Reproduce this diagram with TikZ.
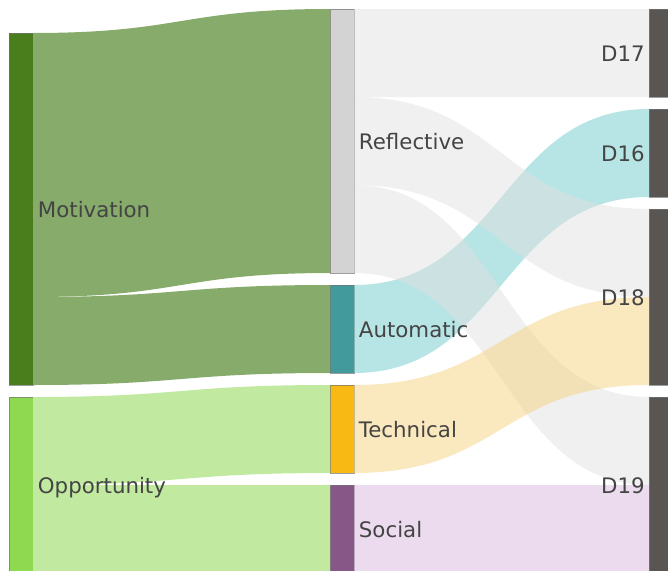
\documentclass[tikz,border=0pt]{standalone}
\usepackage{fontspec}
\setmainfont{DejaVu Sans}
\usetikzlibrary{positioning, calc}

\definecolor{motnode}{RGB}{74,125,28}
\definecolor{oppnode}{RGB}{143,217,81}
\definecolor{reflnode}{RGB}{211,211,211}
\definecolor{autonode}{RGB}{66,154,156}
\definecolor{technode}{RGB}{249,185,21}
\definecolor{socnode}{RGB}{135,88,135}
\definecolor{dnode}{RGB}{89,85,83}
\definecolor{motlink}{RGB}{134,171,106}
\definecolor{opplink}{RGB}{193,233,160}
\definecolor{refllink}{RGB}{225,225,225}
\definecolor{autolink}{RGB}{111,201,201}
\definecolor{techlink}{RGB}{245,209,125}
\definecolor{soclink}{RGB}{217,181,221}
\definecolor{labeltext}{RGB}{68,68,68}

% band from source node to target node (offsets and width in px)
\newcommand{\flow}[6]{%
  \fill[#6] let \p1=(#1.north east), \p2=(#3.north west),
    \n1={\y1-#2*0.75pt}, \n2={\y2-#4*0.75pt}, \n3={#5*0.75pt},
    \n4={(\x1+\x2)/2} in
    ({\x1},{\n1*1pt}) .. controls ({\n4*1pt},{\n1*1pt}) and ({\n4*1pt},{\n2*1pt}) .. ({\x2},{\n2*1pt})
    -- ({\x2},{(\n2-\n3)*1pt}) .. controls ({\n4*1pt},{(\n2-\n3)*1pt}) and ({\n4*1pt},{(\n1-\n3)*1pt}) .. ({\x1},{(\n1-\n3)*1pt})
    -- cycle;
}

\begin{document}
\begin{tikzpicture}[
    x=0.75pt, y=-0.75pt,
    bar/.style={rectangle, draw=black!55, draw opacity=0.7, line width=0.6pt, inner sep=0pt, outer sep=0pt, minimum width=18pt, anchor=north west},
    lbl/.style={inner sep=0pt, text height=0.7em, text depth=0pt, yshift=-3pt, font=\fontsize{16}{19}\selectfont, text=labeltext},
    link/.style={fill=#1, fill opacity=0.5}
]
\useasboundingbox (0,0) rectangle (668,571);

% Nodes
\node[bar, fill=motnode, minimum height=264pt] (mot) at (9,33) {};
\node[bar, fill=oppnode, minimum height=132pt] (opp) at (9,397) {};
\node[bar, fill=reflnode, minimum height=198pt] (refl) at (330,9) {};
\node[bar, fill=autonode, minimum height=66pt] (auto) at (330,285) {};
\node[bar, fill=technode, minimum height=66pt] (tech) at (330,385) {};
\node[bar, fill=socnode, minimum height=66pt] (soc) at (330,485) {};
\node[bar, fill=dnode, minimum height=66pt] (d17) at (649,9) {};
\node[bar, fill=dnode, minimum height=66pt] (d16) at (649,109) {};
\node[bar, fill=dnode, minimum height=132pt] (d18) at (649,209) {};
\node[bar, fill=dnode, minimum height=132pt] (d19) at (649,397) {};

% Flows
\flow{mot}{0}{refl}{0}{264}{motlink}
\flow{mot}{264}{auto}{0}{88}{motlink}
\flow{opp}{0}{tech}{0}{88}{opplink}
\flow{opp}{88}{soc}{0}{88}{opplink}
\flow{auto}{0}{d16}{0}{88}{link=autolink}
\flow{refl}{0}{d17}{0}{88}{link=refllink}
\flow{refl}{88}{d18}{0}{88}{link=refllink}
\flow{refl}{176}{d19}{0}{88}{link=refllink}
\flow{tech}{0}{d18}{88}{88}{link=techlink}
\flow{soc}{0}{d19}{88}{88}{link=soclink}

% Labels
\node[lbl, right=3.5pt of mot] (motlbl) {Motivation};
\node[lbl, right=3.5pt of opp] (opplbl) {Opportunity};
\node[lbl, right=3.5pt of refl] (refllbl) {Reflective};
\node[lbl, right=3.5pt of auto] (autolbl) {Automatic};
\node[lbl, right=3.5pt of tech] (techlbl) {Technical};
\node[lbl, right=3.5pt of soc] (soclbl) {Social};
\node[lbl, left=3pt of d17] (d17lbl) {D17};
\node[lbl, left=3pt of d16] (d16lbl) {D16};
\node[lbl, left=3pt of d18] (d18lbl) {D18};
\node[lbl, left=3pt of d19] (d19lbl) {D19};

\end{tikzpicture}
\end{document}
